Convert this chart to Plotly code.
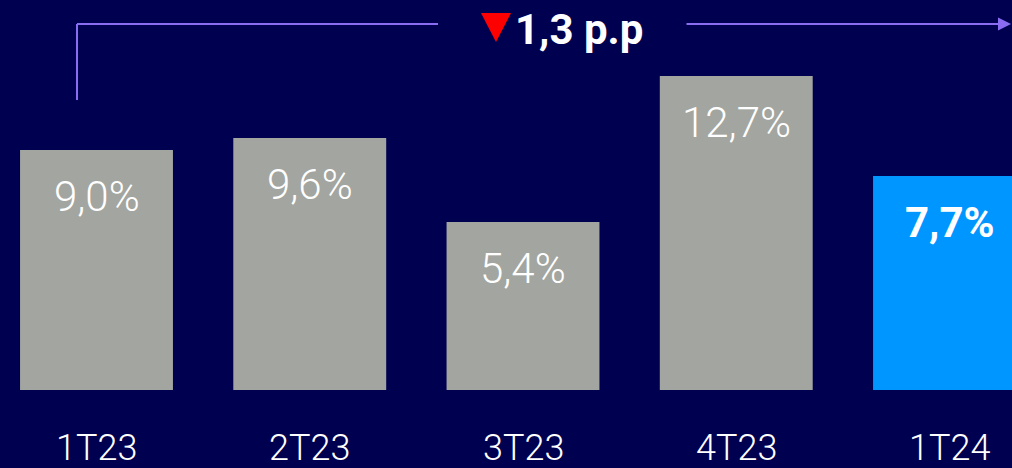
import plotly.graph_objects as go

# quarterly values (%), labels as shown on the slide
categories = ["1T23", "2T23", "3T23", "4T23", "1T24"]
values = [9.0, 9.6, 5.4, 12.7, 7.7]
value_labels = ["9,0%", "9,6%", "5,4%", "12,7%", "7,7%"]
change_label = "1,3 p.p"

BG = "#000050"
GRAY = "#a3a5a0"
BLUE = "#0096ff"
LINE = "#8a6cf2"
BASE = -3  # bars start below zero on the original slide

W, H = 1012, 468
MB = 78
PLOT_H = H - MB


def px(p):
    return p / W


def py(p):
    return (PLOT_H - p) / PLOT_H


colors = [GRAY] * (len(values) - 1) + [BLUE]

fig = go.Figure(go.Bar(
    x=categories,
    y=[v - BASE for v in values],
    base=BASE,
    marker_color=colors,
    marker_line_width=0,
    width=0.717,
    hoverinfo="skip",
))

annotations = []
# value labels near the top of each bar
for i, (c, v, lab) in enumerate(zip(categories, values, value_labels)):
    last = i == len(values) - 1
    annotations.append(dict(
        x=c, y=v, xref="x", yref="y", text=lab, showarrow=False,
        yanchor="middle", yshift=-46,
        font=dict(family="Roboto", size=42, color="white",
                  weight=700 if last else 300),
    ))

# category labels under the bars
for c in categories:
    annotations.append(dict(
        x=c, y=0, xref="x", yref="paper", text=c, showarrow=False,
        yanchor="middle", yshift=-58,
        font=dict(family="Roboto", size=36, color="white", weight=300),
    ))

# change label and arrow
annotations.append(dict(
    x=px(513), y=py(30), xref="paper", yref="paper", text="<b>" + change_label + "</b>",
    showarrow=False, xanchor="left", yanchor="middle",
    font=dict(family="Roboto", size=42, color="white"),
))
annotations.append(dict(
    x=px(1011), y=py(24), xref="paper", yref="paper", text="",
    showarrow=True, ax=-326, ay=0, arrowhead=2, arrowsize=1.3,
    arrowwidth=2, arrowcolor=LINE,
))

shapes = [
    dict(type="line", xref="paper", yref="paper", x0=px(77), y0=py(100),
         x1=px(77), y1=py(24), line=dict(color=LINE, width=2)),
    dict(type="line", xref="paper", yref="paper", x0=px(77), y0=py(24),
         x1=px(438), y1=py(24), line=dict(color=LINE, width=2)),
    dict(type="path", xref="paper", yref="paper",
         path=f"M {px(481)},{py(13)} L {px(511)},{py(13)} L {px(496)},{py(42)} Z",
         fillcolor="#ff0000", line=dict(width=0)),
]

fig.update_layout(
    width=W, height=H,
    margin=dict(l=0, r=0, t=0, b=MB),
    paper_bgcolor=BG, plot_bgcolor=BG,
    showlegend=False,
    annotations=annotations,
    shapes=shapes,
    xaxis=dict(range=[-0.4525, 4.293], showticklabels=False, showgrid=False,
               zeroline=False, fixedrange=True),
    yaxis=dict(range=[BASE, 16.5], visible=False, fixedrange=True),
)

# drop the default page margin so the chart sits at the window's corner
fig.write_html(
    "out.html",
    config={"displayModeBar": False},
    post_script="document.body.style.margin='0';document.body.style.background='" + BG + "';",
)
